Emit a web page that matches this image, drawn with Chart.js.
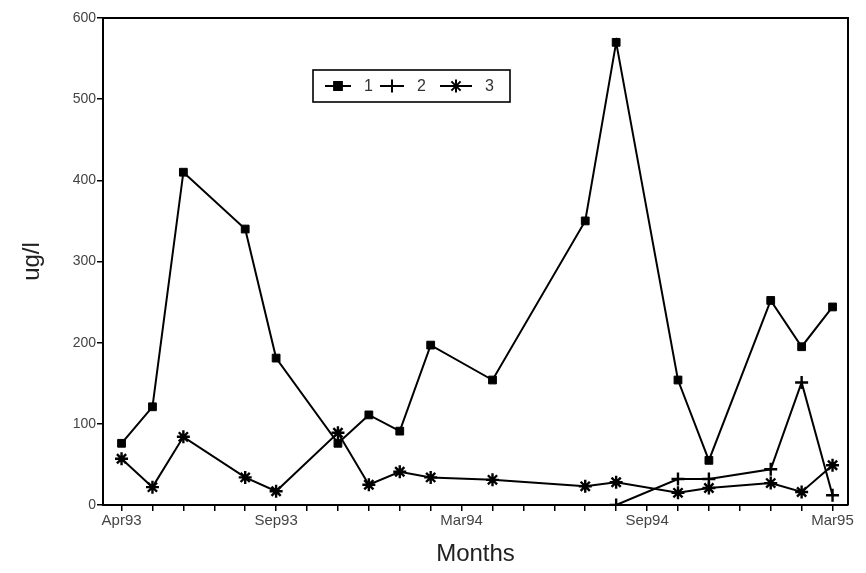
<!DOCTYPE html>
<html>
<head>
<meta charset="utf-8">
<script src="https://cdn.jsdelivr.net/npm/chart.js@4/dist/chart.umd.min.js"></script>
<style>
  html, body { margin: 0; padding: 0; background: #fff; }
  #wrap { width: 866px; height: 573px; }
</style>
</head>
<body>
<div id="wrap"><canvas id="chart"></canvas></div>
<script>
// months counted from Apr93 (0) to Mar95 (23)
const sampleMonths = [0, 1, 2, 4, 5, 7, 8, 9, 10, 12, 15, 16, 18, 19, 21, 22, 23];
const series1 = [76, 121, 410, 340, 181, 76, 111, 91, 197, 154, 350, 570, 154, 55, 252, 195, 244];
const series2 = [null, null, null, null, null, null, null, null, null, null, null, 0, 32, 32, 44, 151, 12];
const series3 = [57, 22, 84, 34, 17, 89, 25, 41, 34, 31, 23, 28, 15, 21, 27, 16, 49];
const seriesNames = ['1', '2', '3'];
const tickMonths = [0, 5, 11, 17, 23];
const tickLabels = ['Apr93', 'Sep93', 'Mar94', 'Sep94', 'Mar95'];

const FONT = "'Liberation Sans', Arial, sans-serif";

function toPoints(vals) {
    return vals.map((v, i) => ({ x: sampleMonths[i], y: v }));
}

function makeDataset(label, vals, style) {
    return {
        label: label,
        data: toPoints(vals),
        borderColor: '#000',
        backgroundColor: '#000',
        borderWidth: 2,
        pointStyle: style,
        pointRadius: style === 'rect' ? 5.5 : 6.5,
        pointBorderWidth: style === 'rect' ? 1 : 2.4,
        pointBorderColor: '#000',
        pointBackgroundColor: '#000',
        tension: 0,
        spanGaps: false
    };
}

// top + right border of the plot
const frame = {
    id: 'frame',
    afterDraw(chart) {
        const { ctx, chartArea: a } = chart;
        ctx.save();
        ctx.strokeStyle = '#000';
        ctx.lineWidth = 2;
        ctx.beginPath();
        ctx.moveTo(a.left, a.top);
        ctx.lineTo(a.right, a.top);
        ctx.lineTo(a.right, a.bottom);
        ctx.stroke();
        ctx.restore();
    }
};

// boxed legend inside the plot
const boxLegend = {
    id: 'boxLegend',
    afterDraw(chart) {
        const ctx = chart.ctx;
        const x0 = 313, y0 = 70, w = 197, h = 32;
        const cy = y0 + h / 2;
        ctx.save();
        ctx.strokeStyle = '#000';
        ctx.lineWidth = 1.6;
        ctx.strokeRect(x0, y0, w, h);
        const starts = [325, 380, 440];
        const lens = [26, 24, 32];
        chart.data.datasets.forEach((ds, i) => {
            const sx = starts[i], len = lens[i];
            ctx.strokeStyle = '#000';
            ctx.lineWidth = 2;
            ctx.beginPath();
            ctx.moveTo(sx, cy);
            ctx.lineTo(sx + len, cy);
            ctx.stroke();
            ctx.fillStyle = '#000';
            Chart.helpers.drawPoint(ctx, {
                pointStyle: ds.pointStyle,
                radius: ds.pointRadius,
                rotation: 0,
                borderWidth: ds.pointBorderWidth
            }, sx + len / 2, cy);
            ctx.fillStyle = '#333';
            ctx.font = '16px ' + FONT;
            ctx.textBaseline = 'middle';
            ctx.fillText(ds.label, sx + len + 13, cy + 1);
        });
        ctx.restore();
    }
};

new Chart(document.getElementById('chart'), {
    type: 'line',
    data: {
        datasets: [
            makeDataset(seriesNames[0], series1, 'rect'),
            makeDataset(seriesNames[1], series2, 'cross'),
            makeDataset(seriesNames[2], series3, 'star')
        ]
    },
    options: {
        responsive: true,
        maintainAspectRatio: false,
        animation: false,
        layout: { padding: { top: 18, right: 18, left: 0, bottom: 0 } },
        plugins: { legend: { display: false }, tooltip: { enabled: false } },
        scales: {
            x: {
                type: 'linear',
                min: -0.6,
                max: 23.5,
                afterBuildTicks: s => { s.ticks = Array.from({ length: 24 }, (_, i) => ({ value: i })); },
                afterFit: s => { s.height = 68; },
                grid: { drawOnChartArea: false, drawTicks: true, tickLength: 6, color: '#000', lineWidth: 1.5 },
                border: { display: true, color: '#000', width: 2 },
                ticks: {
                    autoSkip: false,
                    maxRotation: 0,
                    padding: 1,
                    color: '#444',
                    font: { family: FONT, size: 15 },
                    callback: v => {
                        const k = tickMonths.indexOf(v);
                        return k >= 0 ? tickLabels[k] : '';
                    }
                },
                title: {
                    display: true,
                    text: 'Months',
                    color: '#222',
                    font: { family: FONT, size: 24 },
                    padding: { top: 0, bottom: 4 }
                }
            },
            y: {
                min: 0,
                max: 600,
                afterFit: s => { s.width = 103; },
                grid: { drawOnChartArea: false, drawTicks: true, tickLength: 6, color: '#000', lineWidth: 1.5 },
                border: { display: true, color: '#000', width: 2 },
                ticks: {
                    stepSize: 100,
                    padding: 1,
                    color: '#444',
                    font: { family: FONT, size: 14 }
                },
                title: {
                    display: true,
                    text: 'ug/l',
                    color: '#222',
                    font: { family: FONT, size: 24 },
                    padding: { top: 18, bottom: 0 }
                }
            }
        }
    },
    plugins: [frame, boxLegend]
});
</script>
</body>
</html>
